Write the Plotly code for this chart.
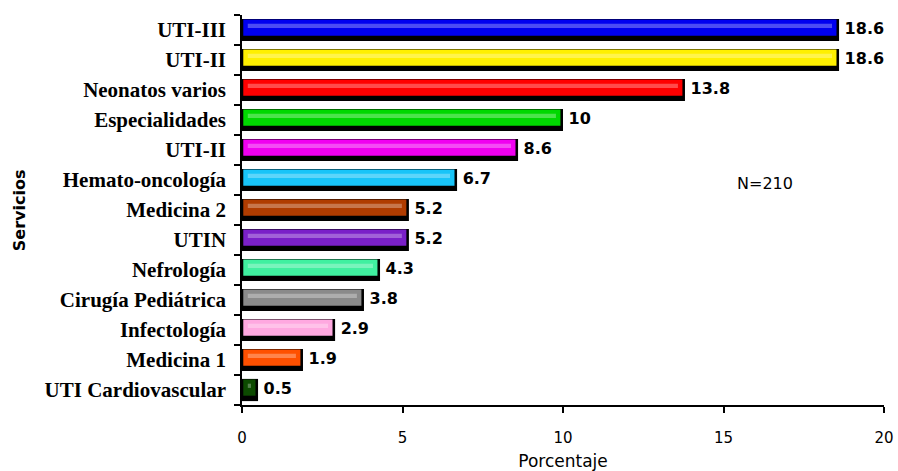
import plotly.graph_objects as go

# Services, listed top to bottom
servicios = [
    "UTI-III", "UTI-II", "Neonatos varios", "Especialidades", "UTI-II",
    "Hemato-oncología", "Medicina 2", "UTIN", "Nefrología",
    "Cirugía Pediátrica", "Infectología", "Medicina 1", "UTI Cardiovascular",
]
porcentaje = [18.6, 18.6, 13.8, 10, 8.6, 6.7, 5.2, 5.2, 4.3, 3.8, 2.9, 1.9, 0.5]
etiquetas = ["18.6", "18.6", "13.8", "10", "8.6", "6.7", "5.2", "5.2", "4.3", "3.8", "2.9", "1.9", "0.5"]
colores = [
    "#0000F0", "#FFF000", "#FF0000", "#00D800", "#F000F0",
    "#18C4F8", "#B03C00", "#7A20C8", "#40F0A0",
    "#8A8A8A", "#FFA8E0", "#FF5000", "#0C4A00",
]
x_ticks = [0, 5, 10, 15, 20]


def aclarar(hex_color, t=0.3):
    r, g, b = (int(hex_color[i:i + 2], 16) for i in (1, 3, 5))
    r, g, b = (int(c + (255 - c) * t) for c in (r, g, b))
    return f"#{r:02x}{g:02x}{b:02x}"


pos = list(range(len(servicios)))
claros = [aclarar(c) for c in colores]

fig = go.Figure()

# dark base gives the bevel shadow along the bottom and right edges
fig.add_trace(go.Bar(
    y=pos, x=porcentaje, orientation="h", width=0.74,
    marker=dict(color="#000000", line=dict(width=0)),
    hoverinfo="skip", showlegend=False,
))
# coloured face, slightly shorter and shifted up
fig.add_trace(go.Bar(
    y=pos, x=[max(v - 0.12, 0.05) for v in porcentaje], base=0.04, orientation="h",
    width=0.54, offset=-0.35,
    marker=dict(color=colores, line=dict(width=0)),
    hoverinfo="skip", showlegend=False,
))
# light highlight stripe
fig.add_trace(go.Bar(
    y=pos, x=[max(v - 0.4, 0.02) for v in porcentaje], base=0.18, orientation="h",
    width=0.14, offset=-0.21,
    marker=dict(color=claros, line=dict(width=0)),
    hoverinfo="skip", showlegend=False,
))

# value labels
fig.add_trace(go.Scatter(
    y=pos, x=porcentaje, mode="text", text=[" " + t for t in etiquetas],
    textposition="middle right",
    textfont=dict(family="DejaVu Sans", size=16, color="#000000", weight="bold"),
    hoverinfo="skip", showlegend=False, cliponaxis=False,
))

fig.update_layout(
    width=898, height=471,
    margin=dict(l=242, r=14, t=15, b=66, autoexpand=False),
    paper_bgcolor="white", plot_bgcolor="white",
    barmode="overlay",
    font=dict(family="DejaVu Sans", color="#000000"),
    xaxis=dict(
        range=[0, 20], tickvals=x_ticks, ticktext=[str(v) for v in x_ticks],
        ticks="outside", ticklen=6, tickwidth=1.5, tickcolor="#000",
        ticklabelstandoff=12, automargin=False,
        showline=True, linecolor="#000", linewidth=1.5,
        showgrid=False, zeroline=False,
        tickfont=dict(family="DejaVu Sans", size=15),
        title=dict(text="Porcentaje", font=dict(family="DejaVu Sans", size=17), standoff=10),
    ),
    yaxis=dict(
        range=[12.5, -0.5], tickmode="array", tickvals=pos, ticktext=servicios,
        ticks="", ticklabelstandoff=10, automargin=False,
        showline=True, linecolor="#000", linewidth=1.5,
        showgrid=False, zeroline=False,
        tickfont=dict(family="Liberation Serif", size=21, weight="bold"),
        minor=dict(tickmode="array", tickvals=[p - 0.5 for p in pos] + [12.5],
                   ticks="outside", ticklen=6, tickwidth=1.5, tickcolor="#000",
                   showgrid=False),
    ),
    annotations=[
        dict(text="N=210", x=16.3, y=5.1, xref="x", yref="y", showarrow=False,
             font=dict(family="DejaVu Sans", size=16, color="#000")),
        dict(text="<b>Servicios</b>", x=-0.365, y=0.5, xref="paper", yref="paper",
             textangle=-90, showarrow=False,
             font=dict(family="DejaVu Sans", size=16, color="#000")),
    ],
)

fig.write_html("out.html")
